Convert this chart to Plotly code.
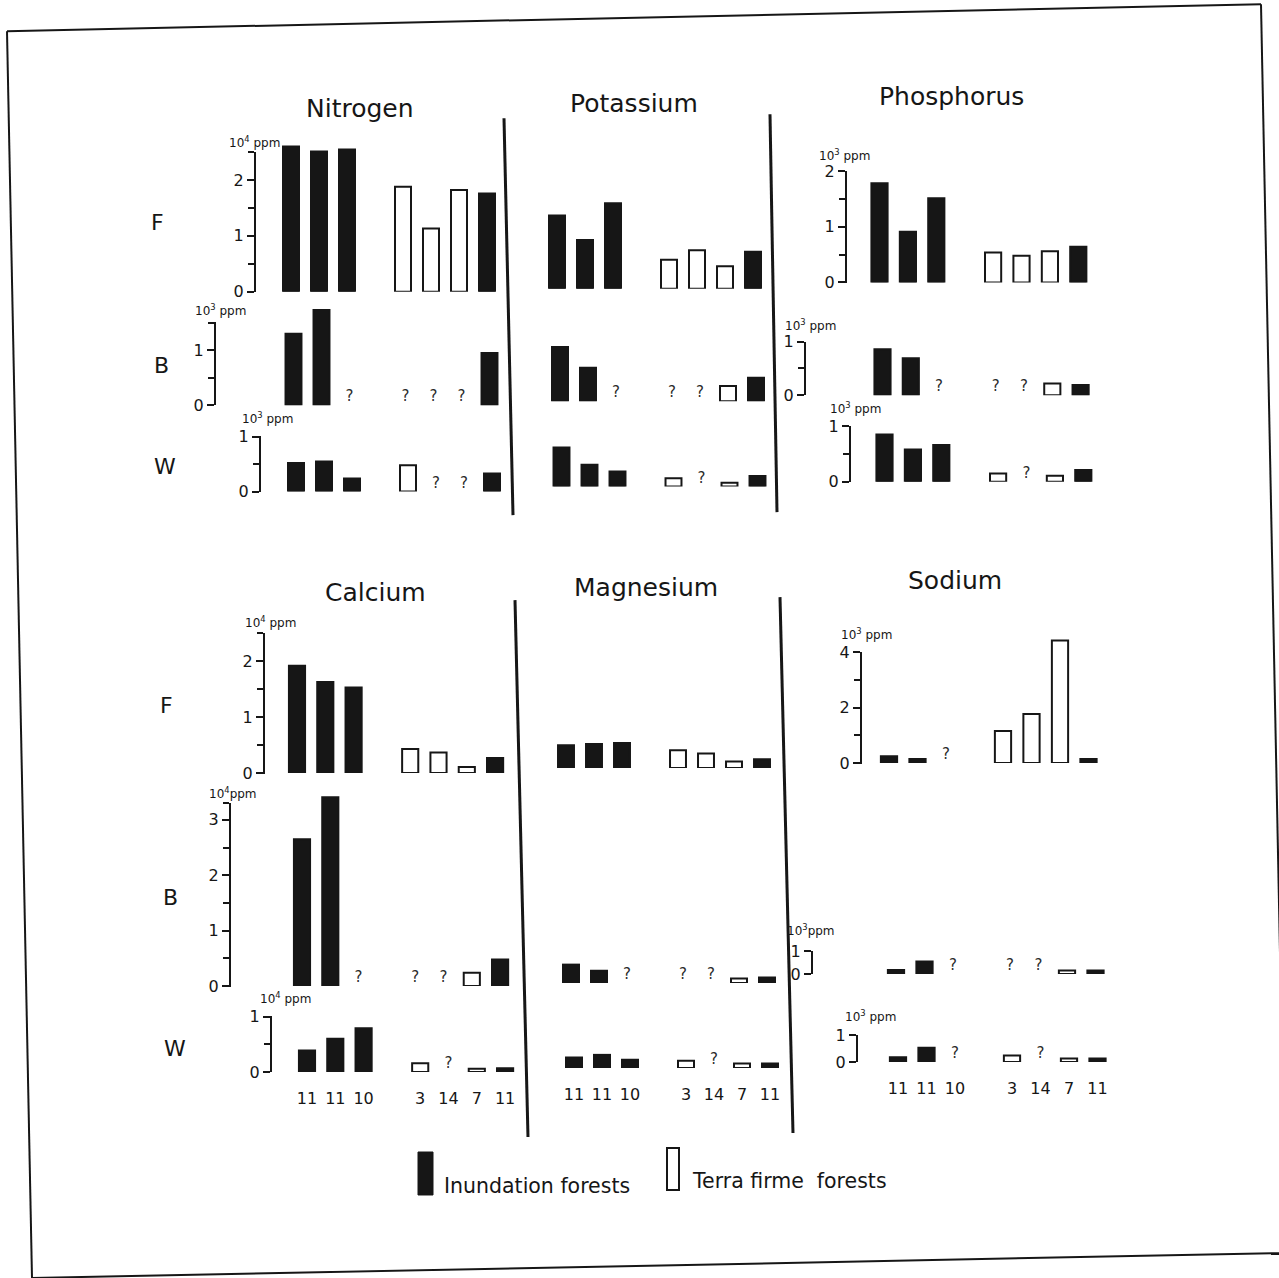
import plotly.graph_objects as go

FIG_W, FIG_H = 1279, 1278
FONT = "DejaVu Sans"
INK = "#161616"

# ---------------- data ----------------
elements = ["Nitrogen", "Potassium", "Phosphorus", "Calcium", "Magnesium", "Sodium"]
tissues = ["F", "B", "W"]
site_positions = [0, 1, 2, 4, 5, 6, 7]
sample_sizes = ["11", "11", "10", "3", "14", "7", "11"]
forest_type = ["Inundation", "Inundation", "Inundation",
               "Terra firme", "Terra firme", "Terra firme", "Inundation"]

# None = not measured ("?")
nitrogen_F = [2.60, 2.51, 2.55, 1.88, 1.13, 1.82, 1.76]
nitrogen_B = [1.30, 1.73, None, None, None, None, 0.95]
nitrogen_W = [0.52, 0.55, 0.24, 0.48, None, None, 0.33]

potassium_F = [1.31, 0.87, 1.53, 0.52, 0.69, 0.40, 0.66]
potassium_B = [0.97, 0.60, None, None, None, 0.27, 0.42]
potassium_W = [0.70, 0.39, 0.27, 0.15, None, 0.07, 0.19]

phosphorus_F = [1.78, 0.91, 1.51, 0.54, 0.48, 0.56, 0.64]
phosphorus_B = [0.86, 0.69, None, None, None, 0.22, 0.19]
phosphorus_W = [0.85, 0.58, 0.66, 0.15, None, 0.11, 0.21]

calcium_F = [1.92, 1.63, 1.53, 0.43, 0.37, 0.11, 0.27]
calcium_B = [2.65, 3.41, None, None, None, 0.24, 0.48]
calcium_W = [0.39, 0.60, 0.79, 0.16, None, 0.06, 0.07]

magnesium_F = [0.41, 0.43, 0.45, 0.32, 0.26, 0.12, 0.16]
magnesium_B = [0.33, 0.22, None, None, None, 0.08, 0.10]
magnesium_W = [0.19, 0.24, 0.15, 0.13, None, 0.08, 0.08]

sodium_F = [0.25, 0.15, None, 1.16, 1.77, 4.43, 0.15]
sodium_B = [0.18, 0.55, None, None, None, 0.15, 0.15]
sodium_W = [0.18, 0.53, None, 0.24, None, 0.13, 0.13]

values = {
    ("Nitrogen", "F"): nitrogen_F, ("Nitrogen", "B"): nitrogen_B, ("Nitrogen", "W"): nitrogen_W,
    ("Potassium", "F"): potassium_F, ("Potassium", "B"): potassium_B, ("Potassium", "W"): potassium_W,
    ("Phosphorus", "F"): phosphorus_F, ("Phosphorus", "B"): phosphorus_B, ("Phosphorus", "W"): phosphorus_W,
    ("Calcium", "F"): calcium_F, ("Calcium", "B"): calcium_B, ("Calcium", "W"): calcium_W,
    ("Magnesium", "F"): magnesium_F, ("Magnesium", "B"): magnesium_B, ("Magnesium", "W"): magnesium_W,
    ("Sodium", "F"): sodium_F, ("Sodium", "B"): sodium_B, ("Sodium", "W"): sodium_W,
}

U4 = "10<sup>4</sup> ppm"
U3 = "10<sup>3</sup> ppm"
# value axes (scale labels)
axis_spec = {
    ("Nitrogen", "F"): dict(top=2.5, major=[0, 1, 2], minor=[0.5, 1.5, 2.5], unit=U4),
    ("Nitrogen", "B"): dict(top=1.5, major=[0, 1], minor=[0.5, 1.5], unit=U3),
    ("Nitrogen", "W"): dict(top=1.0, major=[0, 1], minor=[0.5], unit=U3),
    ("Phosphorus", "F"): dict(top=2.0, major=[0, 1, 2], minor=[0.5, 1.5], unit=U3),
    ("Phosphorus", "B"): dict(top=1.0, major=[0, 1], minor=[0.5], unit=U3),
    ("Phosphorus", "W"): dict(top=1.0, major=[0, 1], minor=[0.5], unit=U3),
    ("Calcium", "F"): dict(top=2.5, major=[0, 1, 2], minor=[0.5, 1.5, 2.5], unit=U4),
    ("Calcium", "B"): dict(top=3.3, major=[0, 1, 2, 3], minor=[0.5, 1.5, 2.5, 3.3], unit="10<sup>4</sup>ppm"),
    ("Calcium", "W"): dict(top=1.0, major=[0, 1], minor=[0.5], unit=U4),
    ("Sodium", "F"): dict(top=4.0, major=[0, 2, 4], minor=[1, 3], unit=U3),
    ("Sodium", "B"): dict(top=1.0, major=[0, 1], minor=[], unit="10<sup>3</sup>ppm"),
    ("Sodium", "W"): dict(top=1.0, major=[0, 1], minor=[], unit=U3),
}

# ---------------- geometry (target pixels in the page) ----------------
# base: y of zero line, ppu: pixels per unit, cx0: centre of first bar,
# sp: bar spacing, ax: x of value axis line, ul: unit label (left x, centre y)
geom = {
    ("Nitrogen", "F"): dict(base=291.5, ppu=55.8, cx0=291, sp=28.0, ax=255, ul=(227, 142)),
    ("Nitrogen", "B"): dict(base=405, ppu=55.0, cx0=293.5, sp=28.0, ax=215, ul=(193, 310)),
    ("Nitrogen", "W"): dict(base=491.5, ppu=55.0, cx0=296, sp=28.0, ax=260, ul=(240, 418)),
    ("Potassium", "F"): dict(base=288.5, ppu=55.8, cx0=557, sp=28.0),
    ("Potassium", "B"): dict(base=401, ppu=55.8, cx0=560, sp=28.0),
    ("Potassium", "W"): dict(base=486.5, ppu=55.8, cx0=561.5, sp=28.0),
    ("Phosphorus", "F"): dict(base=282.3, ppu=55.7, cx0=879.5, sp=28.4, ax=846, ul=(817, 155)),
    ("Phosphorus", "B"): dict(base=395, ppu=53.3, cx0=882.5, sp=28.3, ax=805, ul=(783, 325)),
    ("Phosphorus", "W"): dict(base=481.7, ppu=55.7, cx0=884.5, sp=28.4, ax=850, ul=(828, 408)),
    ("Calcium", "F"): dict(base=773, ppu=55.9, cx0=297, sp=28.3, ax=264, ul=(243, 622)),
    ("Calcium", "B"): dict(base=986, ppu=55.4, cx0=302, sp=28.3, ax=230, ul=(207, 793)),
    ("Calcium", "W"): dict(base=1072, ppu=55.4, cx0=307, sp=28.3, ax=271, ul=(258, 998)),
    ("Magnesium", "F"): dict(base=768, ppu=55.8, cx0=566, sp=28.0),
    ("Magnesium", "B"): dict(base=983, ppu=55.8, cx0=571, sp=28.0),
    ("Magnesium", "W"): dict(base=1068, ppu=55.8, cx0=574, sp=28.0),
    ("Sodium", "F"): dict(base=763, ppu=27.7, cx0=889, sp=28.5, ax=861, ul=(839, 634)),
    ("Sodium", "B"): dict(base=974, ppu=23.0, cx0=896, sp=28.5, ax=812, ul=(785, 930)),
    ("Sodium", "W"): dict(base=1062, ppu=26.8, cx0=898, sp=28.5, ax=857, ul=(843, 1016)),
}

titles_px = {"Nitrogen": (360, 108), "Potassium": (634, 103), "Phosphorus": (951, 96),
             "Calcium": (375, 592), "Magnesium": (646, 587), "Sodium": (955, 580)}
row_labels_px = [("F", 157, 222), ("B", 162, 365), ("W", 165, 466),
                 ("F", 166, 705), ("B", 170, 897), ("W", 175, 1048)]
bottom_row_elements = ["Calcium", "Magnesium", "Sodium"]

BAR_WIDTH = 0.57
fill_colors = {"Inundation": INK, "Terra firme": "white"}

# the capture squeezes the page slightly in height: compensate
Y_OFF, Y_SCALE = 8.8, 0.9853


def fx(p):
    return p / FIG_W


def fy(p):
    return 1 - ((p - Y_OFF) / Y_SCALE) / FIG_H


fig = go.Figure()
layout = {}
annotations = []
k = 0


def axname(n):
    return ("" if n == 1 else str(n))


for el in elements:
    for t in tissues:
        vals = values[(el, t)]
        g = geom[(el, t)]
        spec = axis_spec.get((el, t))
        k += 1
        kx = axname(k)
        x_dom = [fx(g["cx0"] - 0.5 * g["sp"]), fx(g["cx0"] + 7.5 * g["sp"])]
        vmax = max(v for v in vals if v is not None)
        top = max(vmax, spec["top"] if spec else 0) * 1.08
        y_dom = [fy(g["base"]), fy(g["base"] - top * g["ppu"])]

        xs = [p for p, v in zip(site_positions, vals) if v is not None]
        ys = [v for v in vals if v is not None]
        cols = [fill_colors[f] for f, v in zip(forest_type, vals) if v is not None]
        fig.add_trace(go.Bar(
            x=xs, y=ys, width=BAR_WIDTH, xaxis="x" + kx, yaxis="y" + kx,
            marker=dict(color=cols, line=dict(color=INK, width=2)),
            showlegend=False, hoverinfo="skip"))
        qx = [p for p, v in zip(site_positions, vals) if v is None]
        if qx:
            fig.add_trace(go.Scatter(
                x=qx, y=[0] * len(qx), mode="text", text=["?"] * len(qx),
                textposition="top center", cliponaxis=False,
                textfont=dict(family=FONT, size=15, color="#2a2a2a"),
                xaxis="x" + kx, yaxis="y" + kx, showlegend=False, hoverinfo="skip"))

        show_n = (el in bottom_row_elements and t == "W")
        xa = dict(domain=x_dom, range=[-0.5, 7.5], anchor="y" + kx,
                  showgrid=False, zeroline=False, showline=False, fixedrange=True)
        if show_n:
            xa.update(visible=True, tickmode="array", tickvals=site_positions,
                      ticktext=sample_sizes, ticks="outside", ticklen=12,
                      tickcolor="rgba(0,0,0,0)",
                      tickfont=dict(family=FONT, size=16, color=INK))
        else:
            xa.update(visible=False)
        layout["xaxis" + kx] = xa
        layout["yaxis" + kx] = dict(domain=y_dom, range=[0, top], anchor="x" + kx,
                                    visible=False, fixedrange=True)

        if spec:
            k += 1
            kd = axname(k)
            eps = 0.004 * spec["top"]
            ya_dom = [fy(g["base"] + eps * g["ppu"]),
                      fy(g["base"] - (spec["top"] + eps) * g["ppu"])]
            layout["xaxis" + kd] = dict(domain=x_dom, range=[-0.5, 7.5], anchor="y" + kd,
                                        visible=False, fixedrange=True)
            minor = dict(tickmode="array", tickvals=spec["minor"], ticks="outside",
                         ticklen=6, tickwidth=2, tickcolor=INK) if spec["minor"] else None
            ya = dict(domain=ya_dom, range=[-eps, spec["top"] + eps], anchor="free",
                      position=fx(g["ax"]), side="left", showline=True, linecolor=INK,
                      linewidth=2, ticks="outside", ticklen=7, tickwidth=2, tickcolor=INK,
                      tickmode="array", tickvals=spec["major"],
                      ticktext=[str(v) for v in spec["major"]],
                      tickfont=dict(family=FONT, size=16, color=INK),
                      showgrid=False, zeroline=False, fixedrange=True)
            if minor:
                ya["minor"] = minor
            layout["yaxis" + kd] = ya
            fig.add_trace(go.Scatter(x=[], y=[], xaxis="x" + kd, yaxis="y" + kd,
                                     showlegend=False, hoverinfo="skip"))
            ux, uy = g["ul"]
            annotations.append(dict(x=fx(ux), y=fy(uy), xref="paper", yref="paper",
                                    text=spec["unit"], showarrow=False, xanchor="left",
                                    yanchor="middle",
                                    font=dict(family=FONT, size=12, color=INK)))

# titles
for el, (tx, ty) in titles_px.items():
    annotations.append(dict(x=fx(tx), y=fy(ty), xref="paper", yref="paper", text=el,
                            showarrow=False, xanchor="center", yanchor="middle",
                            font=dict(family=FONT, size=25, color=INK)))
# row labels
for lab, tx, ty in row_labels_px:
    annotations.append(dict(x=fx(tx), y=fy(ty), xref="paper", yref="paper", text=lab,
                            showarrow=False, xanchor="center", yanchor="middle",
                            font=dict(family=FONT, size=22, color=INK)))
# legend texts
annotations.append(dict(x=fx(442), y=fy(1186), xref="paper", yref="paper",
                        text="Inundation forests", showarrow=False, xanchor="left",
                        yanchor="middle", font=dict(family=FONT, size=20.5, color=INK)))
annotations.append(dict(x=fx(690), y=fy(1181), xref="paper", yref="paper",
                        text="Terra firme  forests", showarrow=False, xanchor="left",
                        yanchor="middle", font=dict(family=FONT, size=20.5, color=INK)))


def pline(x0, y0, x1, y1, w=3):
    return dict(type="line", xref="paper", yref="paper", x0=fx(x0), y0=fy(y0),
                x1=fx(x1), y1=fy(y1), line=dict(color=INK, width=w))


shapes = [
    # outer frame (scanned, slightly rotated)
    pline(7, 31, 1261, 4, 2), pline(7, 31, 32, 1278, 2),
    pline(1261, 4, 1286, 1253, 2), pline(32, 1278, 1286, 1253, 2),
    # panel separators
    pline(504, 118, 513, 515), pline(770, 114, 777, 512),
    pline(515, 600, 528, 1137), pline(780, 597, 793, 1133),
    # legend swatches
    dict(type="rect", xref="paper", yref="paper", x0=fx(418), x1=fx(433),
         y0=fy(1195), y1=fy(1152), fillcolor=INK, line=dict(color=INK, width=1)),
    dict(type="rect", xref="paper", yref="paper", x0=fx(667), x1=fx(679),
         y0=fy(1190), y1=fy(1148), fillcolor="white", line=dict(color=INK, width=2)),
]

fig.update_layout(**layout)
fig.update_layout(width=FIG_W, height=FIG_H, autosize=False,
                  margin=dict(l=0, r=0, t=0, b=0, pad=0),
                  paper_bgcolor="white", plot_bgcolor="rgba(0,0,0,0)",
                  annotations=annotations, shapes=shapes, showlegend=False,
                  barmode="overlay", font=dict(family=FONT, color=INK))

post = ("document.documentElement.style.margin='0';"
        "document.documentElement.style.overflow='hidden';"
        "document.body.style.margin='0';document.body.style.overflow='hidden';"
        "var gd=document.getElementById('{plot_id}');"
        "gd.style.position='fixed';gd.style.left='0px';gd.style.top='0px';")
fig.write_html("out.html", config={"displayModeBar": False, "staticPlot": True},
               post_script=post)
